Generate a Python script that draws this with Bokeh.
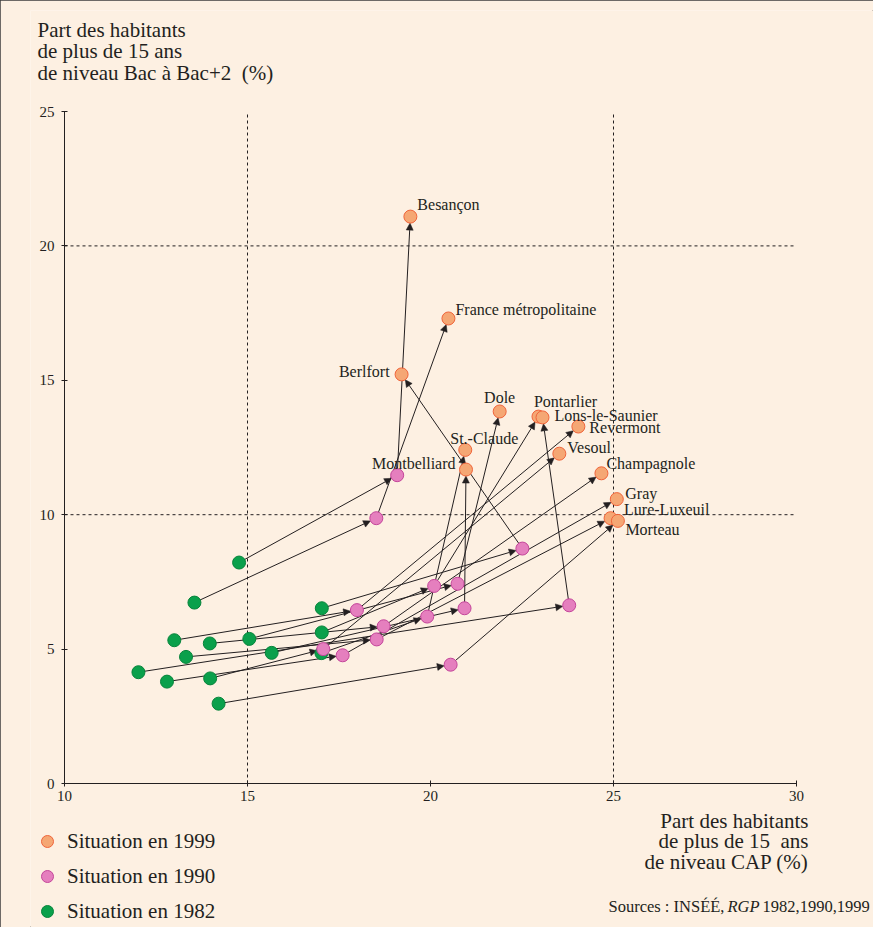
from bokeh.plotting import figure
from bokeh.models import (Range1d, FixedTicker, Arrow, NormalHead, Label,
                          Legend, LegendItem, ColumnDataSource)
from bokeh.embed import file_html
from bokeh.resources import INLINE

# ---------------- data ----------------
names = ["Besançon", "France métropolitaine", "Berlfort", "Montbelliard",
         "St.-Claude", "Dole", "Pontarlier", "Lons-le-Saunier", "Revermont",
         "Vesoul", "Champagnole", "Gray", "Lure-Luxeuil", "Morteau"]
# share of 15+ with CAP level (%)
cap_1982 = [14.77, 13.55, 17.03, 15.66, 17.02, 15.05, 17.03, 12.02, 13.00,
            13.98, 13.97, 12.80, 13.32, 14.21]
cap_1990 = [19.09, 18.52, 22.51, 20.93, 19.91, 20.74, 20.10, 23.79, 17.99,
            17.07, 18.72, 17.60, 18.53, 20.55]
cap_1999 = [19.45, 20.49, 19.21, 20.97, 20.95, 21.89, 22.95, 23.06, 24.04,
            23.52, 24.67, 25.09, 24.92, 25.12]
# share of 15+ with Bac to Bac+2 level (%)
bac_1982 = [8.22, 6.73, 6.52, 4.86, 4.85, 5.38, 5.62, 4.14, 5.33,
            3.91, 5.21, 3.79, 4.71, 2.97]
bac_1990 = [11.47, 9.87, 8.74, 6.52, 6.21, 7.43, 7.35, 6.63, 6.45,
            5.00, 5.85, 4.77, 5.36, 4.42]
bac_1999 = [21.09, 17.30, 15.22, 11.68, 12.41, 13.84, 13.65, 13.62, 13.28,
            12.27, 11.54, 10.58, 9.87, 9.77]

x_ticks = [10, 15, 20, 25, 30]
y_ticks = [0, 5, 10, 15, 20, 25]
x_grid = [15, 25]
y_grid = [10, 20]

NB = "\u00a0"
y_title = ["Part des habitants", "de plus de 15 ans",
           "de niveau Bac à Bac+2" + NB + NB + "(%)"]
x_title = ["Part des habitants", "de plus de 15" + NB + NB + "ans",
           "de niveau CAP (%)"]
legend_labels = ["Situation en 1999", "Situation en 1990", "Situation en 1982"]
source_parts = ["Sources : INSÉÉ,", "RGP", "1982,1990,1999"]

# ---------------- layout ----------------
W, H = 873, 927
PL, PT = 30, 10                     # side panels (y axis left, x axis above)
AX_L, AX_R, AX_T, AX_B = 64, 796, 111, 783   # canvas px of the data box
XMIN, XMAX, YMIN, YMAX = 10, 30, 0, 25
KX = (AX_R - AX_L) / (XMAX - XMIN)
KY = (AX_B - AX_T) / (YMAX - YMIN)

BG = "#FDF0E2"
INK = "#231F20"
SERIF = "Liberation Serif"
C99 = ("#F5A774", "#F0643A")
C90 = ("#E57FBE", "#C4459A")
C82 = ("#0AA04B", "#07843B")


def cx(px):   # canvas px -> data x
    return XMIN + (px - AX_L) / KX


def cy(py):   # canvas px -> data y
    return YMIN + (AX_B - py) / KY


p = figure(width=W, height=H, output_backend="svg", toolbar_location=None,
           x_range=Range1d(cx(PL), cx(W)), y_range=Range1d(cy(H), cy(PT)),
           x_axis_location="above", y_axis_location="left",
           min_border_left=PL, min_border_right=0, min_border_top=PT,
           min_border_bottom=0)
p.background_fill_color = BG
p.border_fill_color = BG
p.outline_line_color = None
p.styles = {"outline": "1px solid #3c3c3c", "outline-offset": "-1px"}
p.xgrid.visible = False
p.ygrid.visible = False

for ax in (p.xaxis[0], p.yaxis[0]):
    ax.axis_line_color = INK
    ax.major_tick_line_color = INK
    ax.minor_tick_line_color = None
    ax.major_tick_in = 3
    ax.major_tick_out = 3
    ax.major_label_text_font = SERIF
    ax.major_label_text_font_size = "15px"
    ax.major_label_text_color = INK
p.xaxis.ticker = FixedTicker(ticks=x_ticks)
p.yaxis.ticker = FixedTicker(ticks=y_ticks)
p.xaxis.fixed_location = YMIN
p.yaxis.fixed_location = XMIN
p.xaxis.bounds = (XMIN, XMAX)
p.yaxis.bounds = (YMIN, YMAX)
p.xaxis.major_label_standoff = -20
p.yaxis.major_label_standoff = 7

# dotted reference lines
gx = ColumnDataSource(dict(x=x_grid, y0=[YMIN] * len(x_grid),
                           y1=[YMAX] * len(x_grid)))
gy = ColumnDataSource(dict(y=y_grid, x0=[XMIN] * len(y_grid),
                           x1=[XMAX] * len(y_grid)))
p.segment(x0="x", y0="y0", x1="x", y1="y1", source=gx, line_color=INK,
          line_dash="3 3", line_width=1, level="underlay")
p.segment(x0="x0", y0="y", x1="x1", y1="y", source=gy, line_color=INK,
          line_dash="3 3", line_width=1, level="underlay")


def shortened(xs, ys, xe, ye, r=6.5):
    ox, oy = [], []
    for a, b, c, d in zip(xs, ys, xe, ye):
        px, py = (c - a) * KX, (d - b) * KY
        L = (px * px + py * py) ** 0.5
        f = r / L if L > 0 else 0
        ox.append(c - (c - a) * f)
        oy.append(d - (d - b) * f)
    return ox, oy


def add_arrows(xs, ys, xe, ye):
    ex, ey = shortened(xs, ys, xe, ye)
    src = ColumnDataSource(dict(x0=xs, y0=ys, x1=ex, y1=ey))
    a = Arrow(x_start="x0", y_start="y0", x_end="x1", y_end="y1", source=src,
              line_color=INK, line_width=1,
              end=NormalHead(size=7, fill_color=INK, line_color=INK,
                             line_width=0.5))
    a.level = "underlay"
    p.add_layout(a)


add_arrows(cap_1982, bac_1982, cap_1990, bac_1990)
add_arrows(cap_1990, bac_1990, cap_1999, bac_1999)

r82 = p.scatter(cap_1982, bac_1982, size=13, fill_color=C82[0], line_color=C82[1])
r90 = p.scatter(cap_1990, bac_1990, size=13, fill_color=C90[0], line_color=C90[1])
r99 = p.scatter(cap_1999, bac_1999, size=13, fill_color=C99[0], line_color=C99[1])

# city labels: pixel offsets from the 1999 point and alignment
lab_dx = [7, 7, -12, -10.5, -15, 0, -4.5, 12, 11, 8, 5, 8.5, 13.5, 7.5]
lab_dy = [-12, -9, -3, -6, -11.5, -14, -15, -1.5, 1, -6, -9.5, -6, -8.5, 8.5]
lab_al = ["left", "left", "right", "right", "left", "center", "left", "left",
          "left", "left", "left", "left", "left", "left"]
for n, x, y, ox, oy, al in zip(names, cap_1999, bac_1999, lab_dx, lab_dy, lab_al):
    p.add_layout(Label(x=x + ox / KX, y=y - oy / KY, text=n,
                       text_font=SERIF, text_font_size="16px",
                       text_color=INK, text_align=al,
                       text_baseline="middle"))

# axis titles
for i, t in enumerate(y_title):
    p.add_layout(Label(x=cx(37), y=cy(29 + 21.5 * i), text=t, text_font=SERIF,
                       text_font_size="21px", text_color=INK,
                       text_baseline="middle", text_align="left"))
for i, t in enumerate(x_title):
    p.add_layout(Label(x=cx(808), y=cy(820 + 20.5 * i), text=t,
                       text_font=SERIF, text_font_size="21px",
                       text_color=INK, text_baseline="middle",
                       text_align="right"))

# source line
for t, st, xx in zip(source_parts, ["normal", "italic", "normal"],
                     [608, 727, 762]):
    p.add_layout(Label(x=cx(xx), y=cy(906), text=t, text_font=SERIF,
                       text_font_size="16.5px", text_font_style=st,
                       text_color=INK, text_baseline="middle"))

legend = Legend(items=[LegendItem(label=l, renderers=[r])
                       for l, r in zip(legend_labels, [r99, r90, r82])],
                location=(2, 1), orientation="vertical",
                label_text_font=SERIF, label_text_font_size="21px",
                label_text_color=INK, glyph_width=30, glyph_height=30,
                label_height=30, spacing=5, padding=0, margin=0,
                label_standoff=5, border_line_color=None,
                background_fill_alpha=0)
p.add_layout(legend, "center")

open("out.html", "w").write(file_html(p, INLINE))
